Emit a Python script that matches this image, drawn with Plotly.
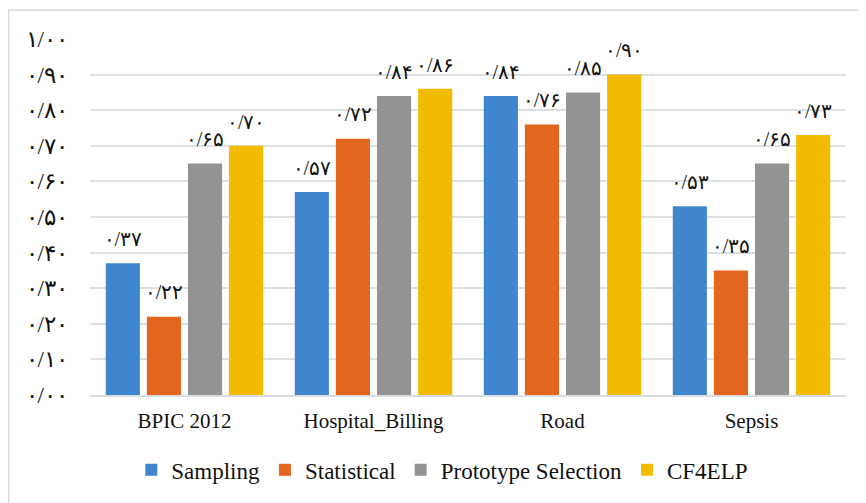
import plotly.graph_objects as go

categories = ["BPIC 2012", "Hospital_Billing", "Road", "Sepsis"]
series_names = ["Sampling", "Statistical", "Prototype Selection", "CF4ELP"]
sampling = [0.37, 0.57, 0.84, 0.53]
statistical = [0.22, 0.72, 0.76, 0.35]
prototype = [0.65, 0.84, 0.85, 0.65]
cf4elp = [0.70, 0.86, 0.90, 0.73]
y_ticks = [0.0, 0.1, 0.2, 0.3, 0.4, 0.5, 0.6, 0.7, 0.8, 0.9, 1.0]

colors = ["#3f86cc", "#e4651e", "#939393", "#f3bb00"]

FA = str.maketrans("0123456789.", "۰۱۲۳۴۵۶۷۸۹/")


def fa(v):
    return f"{v:.2f}".translate(FA)


SERIF = "Liberation Serif"

fig = go.Figure()
all_series = [sampling, statistical, prototype, cf4elp]
for i, (name, vals, c) in enumerate(zip(series_names, all_series, colors)):
    fig.add_trace(go.Bar(
        x=categories, y=vals, name=name, offsetgroup=str(i),
        marker=dict(color=c, line=dict(width=0)),
        hoverinfo="skip",
    ))
# value labels (scatter text traces grouped like the bars)
for i, vals in enumerate(all_series):
    fig.add_trace(go.Scatter(
        x=categories, y=vals, mode="markers+text", offsetgroup=str(i),
        marker=dict(size=18, opacity=0), text=[fa(v) for v in vals],
        textposition="top center", showlegend=False, hoverinfo="skip",
        textfont=dict(family=SERIF, size=20, color="#111"), cliponaxis=False,
    ))

fig.update_layout(
    width=866, height=503,
    margin=dict(l=82, r=28, t=31, b=116),
    paper_bgcolor="white", plot_bgcolor="white",
    barmode="group", bargap=0.13, bargroupgap=0.17,
    scattermode="group", scattergap=0.13,
    font=dict(family=SERIF, color="#111"),
    showlegend=True,
    legend=dict(orientation="h", x=0.466, xanchor="center", y=-0.21, yanchor="middle",
                font=dict(family=SERIF, size=23, color="#111"), itemwidth=30,
                traceorder="normal"),
)
fig.update_yaxes(range=[0, 1.0], tickvals=y_ticks, ticktext=[fa(v) for v in y_ticks],
                 showgrid=True, gridcolor="#dcdfe4", gridwidth=1.5, zeroline=False,
                 showline=False, ticks="", ticklabelstandoff=21,
                 tickfont=dict(family=SERIF, size=23, color="#111"))
fig.update_xaxes(showline=True, linecolor="#d9dce1", linewidth=2, ticks="",
                 tickfont=dict(family=SERIF, size=21, color="#111"), ticklabelstandoff=6)

# outer chart border (left and top visible)
fig.add_shape(type="rect", xref="paper", yref="paper", x0=-0.1078, x1=1.2, y0=-0.5, y1=1.0815,
              line=dict(color="#d5d8dd", width=1.5), fillcolor="rgba(0,0,0,0)", layer="below")

fig.write_html("out.html")
